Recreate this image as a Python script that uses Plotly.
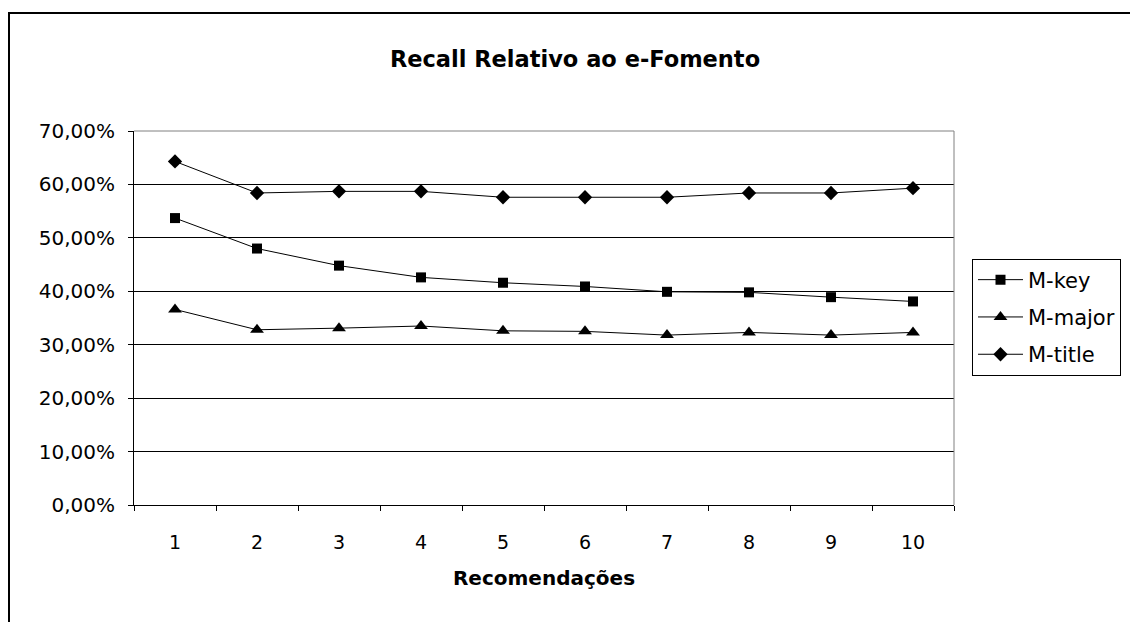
import plotly.graph_objects as go

# Recall per number of recommendations
recomendacoes = ["1", "2", "3", "4", "5", "6", "7", "8", "9", "10"]
m_key = [0.537, 0.480, 0.448, 0.426, 0.416, 0.409, 0.399, 0.398, 0.389, 0.381]
m_major = [0.366, 0.328, 0.331, 0.335, 0.326, 0.325, 0.318, 0.323, 0.318, 0.323]
m_title = [0.643, 0.584, 0.587, 0.587, 0.576, 0.576, 0.576, 0.584, 0.584, 0.593]

series = [
    ("M-key", m_key, "square", 10),
    ("M-major", m_major, "triangle-up", 12),
    ("M-title", m_title, "diamond", 11),
]

W, H = 1130, 622
L, R, T, B = 134, 954, 131, 505  # plot area in pixels


def px_x(x):
    return (x - L) / (R - L)


def px_y(y):
    return (B - y) / (B - T)


fig = go.Figure()
for name, vals, sym, size in series:
    fig.add_trace(go.Scatter(
        x=recomendacoes, y=vals, name=name, mode="lines+markers",
        legendgroup=name,
        line=dict(color="black", width=1),
        marker=dict(symbol=sym, size=size, color="black"),
    ))

font_family = "DejaVu Sans, Verdana, sans-serif"

fig.update_layout(
    width=W, height=H,
    margin=dict(l=L, r=W - R, t=T, b=H - B, autoexpand=False),
    paper_bgcolor="white", plot_bgcolor="white",
    separators=",.",
    font=dict(family=font_family, size=18, color="black"),
    title=dict(text="<b>Recall Relativo ao e-Fomento</b>", x=575 / W, xanchor="center",
               y=1 - 59 / H, yanchor="middle",
               font=dict(family=font_family, size=22.5, color="black")),
    showlegend=True,
    legend=dict(x=px_x(972), xanchor="left", y=px_y(317), yanchor="middle",
                bordercolor="black", borderwidth=1, bgcolor="white",
                font=dict(family=font_family, size=21, color="black"),
                tracegroupgap=7, itemwidth=45),
    xaxis=dict(
        type="category", range=[-0.5, 9.5], tickson="boundaries",
        ticks="outside", ticklen=5, tickcolor="black", tickwidth=1,
        showline=True, linecolor="black", linewidth=1,
        showgrid=False, ticklabelstandoff=20,
        tickfont=dict(size=19),
        title=dict(text="<b>Recomendações</b>", standoff=19,
                   font=dict(family=font_family, size=20)),
    ),
    yaxis=dict(
        range=[0, 0.7], dtick=0.1, tickformat=".2%",
        ticks="outside", ticklen=5, tickcolor="black", tickwidth=1,
        showline=True, linecolor="black", linewidth=1,
        showgrid=True, gridcolor="black", gridwidth=1,
        zeroline=False, ticklabelstandoff=9,
        tickfont=dict(size=20),
    ),
    shapes=[
        # gray frame on the top and right of the plot area
        dict(type="line", xref="paper", yref="paper", x0=0, x1=1, y0=1, y1=1,
             line=dict(color="#808080", width=1), layer="above"),
        dict(type="line", xref="paper", yref="paper", x0=1, x1=1, y0=0, y1=1,
             line=dict(color="#808080", width=1), layer="above"),
        # outer chart border
        dict(type="rect", xref="paper", yref="paper",
             x0=px_x(9), x1=px_x(W + 20), y0=px_y(13), y1=px_y(H + 20),
             line=dict(color="black", width=2), fillcolor="rgba(0,0,0,0)",
             layer="above"),
    ],
)

fig.write_html("out.html")
